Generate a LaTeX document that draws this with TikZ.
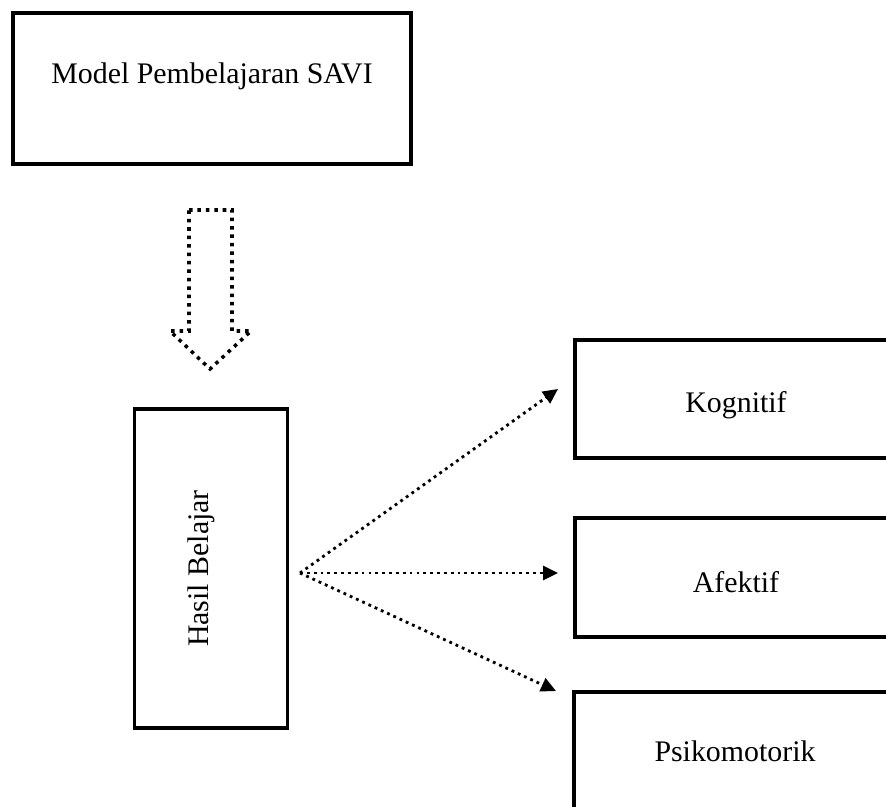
\documentclass[tikz,border=0pt]{standalone}
\usepackage{fontspec}
\setmainfont{Liberation Serif}
\usetikzlibrary{arrows.meta}
\begin{document}
\begin{tikzpicture}[
    box/.style={draw, line width=1.9pt, inner sep=0pt},
    lbl/.style={font=\fontsize{17}{20}\selectfont, inner sep=0pt},
    dotline/.style={line width=1.6pt, dash pattern=on 1.6pt off 2.3pt, -{Triangle[length=8.5pt,width=8pt]}}]
        \useasboundingbox (0,0) rectangle (17.72,-16.14);
        \node[box, minimum width=7.96cm, minimum height=3.02cm] (savi) at (4.24,-1.77) {};
        \node[lbl] (savitxt) at ([yshift=0.25cm]savi.center) {Model Pembelajaran SAVI};
        % hollow dotted arrow
        \draw[line width=2pt, dash pattern=on 2pt off 2.8pt] (3.78,-4.2) -- (4.64,-4.2) -- (4.64,-6.62) -- (5.02,-6.62) -- (4.2,-7.38) -- (3.4,-6.62) -- (3.78,-6.62) -- cycle;
        \node[box, minimum width=3.06cm, minimum height=6.38cm] (hasil) at (4.22,-11.37) {};
        \node[lbl, rotate=90] (hasiltxt) at ([xshift=-0.2cm]hasil.center) {Hasil Belajar};
        \node[box, minimum width=6.44cm, minimum height=2.36cm] (kog) at (14.72,-7.98) {};
        \node[lbl] (kogtxt) at ([yshift=-0.12cm]kog.center) {Kognitif};
        \node[box, minimum width=6.44cm, minimum height=2.38cm] (afek) at (14.72,-11.55) {};
        \node[lbl] (afektxt) at ([yshift=-0.09cm]afek.center) {Afektif};
        \node[box, lbl, minimum width=6.44cm, minimum height=2.38cm] (psiko) at (14.7,-15.03) {Psikomotorik};
        \coordinate (hub) at (6.0,-11.46);
        \coordinate (kogin) at (11.16,-7.78);
        \coordinate (afekin) at (11.16,-11.46);
        \coordinate (psikoin) at (11.12,-13.82);
        \draw[dotline] (hub) -- (kogin);
        \draw[dotline] (hub) -- (afekin);
        \draw[dotline] (hub) -- (psikoin);
\end{tikzpicture}
\end{document}
